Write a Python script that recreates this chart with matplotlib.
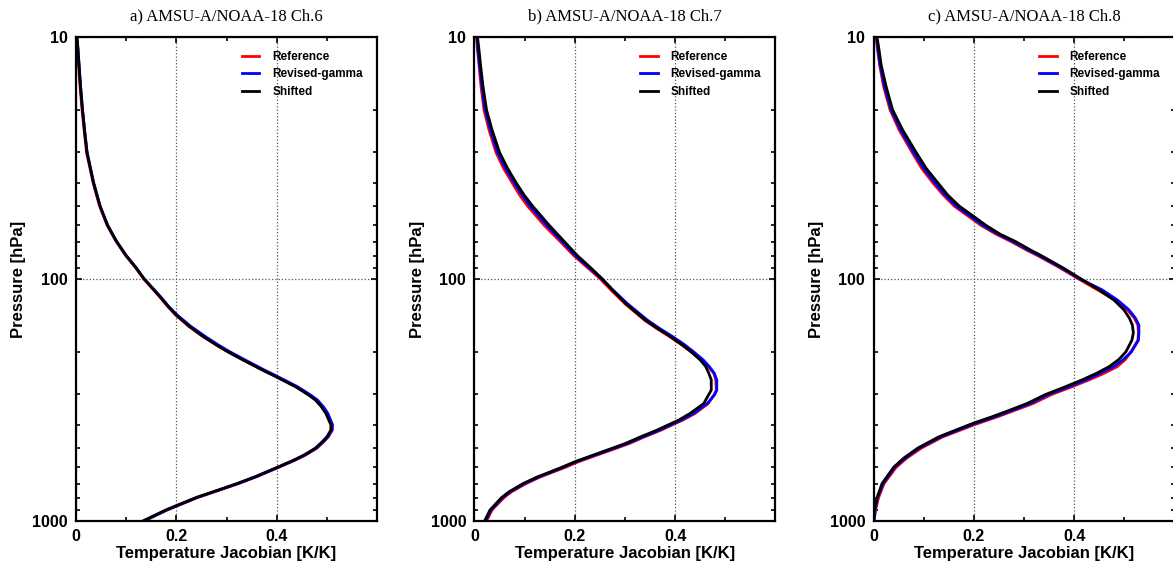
import matplotlib
matplotlib.use("Agg")
import matplotlib.pyplot as plt
from matplotlib.ticker import FixedLocator, FixedFormatter, LogLocator, NullFormatter

# titles of the three panels
titles = ["a) AMSU-A/NOAA-18 Ch.6", "b) AMSU-A/NOAA-18 Ch.7", "c) AMSU-A/NOAA-18 Ch.8"]
series_names = ["Reference", "Revised-gamma", "Shifted"]
series_colors = ["#ff0000", "#0000ff", "#000000"]

# Ch.6 : pressure levels [hPa] and jacobians [K/K]
p_ch6 = [10, 11.3, 13, 16, 20, 24.2, 30, 40, 50, 60, 70, 80, 90, 100, 118, 130, 141,
         157, 173, 188, 200, 216, 238, 253, 279, 300, 316, 337, 359, 400, 421, 449,
         470, 500, 533, 560, 600, 656, 700, 745, 800, 900, 1000]
ch6_ref = [0.001, 0.003, 0.005, 0.008, 0.012, 0.016, 0.021, 0.034, 0.047, 0.062, 0.080,
           0.099, 0.119, 0.135, 0.166, 0.183, 0.199, 0.225, 0.253, 0.281, 0.303, 0.333,
           0.372, 0.399, 0.439, 0.464, 0.480, 0.492, 0.501, 0.511, 0.511, 0.503, 0.494,
           0.480, 0.458, 0.437, 0.404, 0.360, 0.324, 0.286, 0.242, 0.182, 0.136]
ch6_gam = [0.002, 0.004, 0.006, 0.009, 0.013, 0.017, 0.022, 0.035, 0.048, 0.063, 0.081,
           0.100, 0.120, 0.136, 0.168, 0.185, 0.202, 0.229, 0.258, 0.285, 0.307, 0.337,
           0.376, 0.402, 0.442, 0.466, 0.481, 0.493, 0.502, 0.511, 0.510, 0.502, 0.493,
           0.479, 0.457, 0.436, 0.403, 0.359, 0.323, 0.285, 0.241, 0.181, 0.135]
ch6_sft = [0.002, 0.004, 0.006, 0.009, 0.013, 0.017, 0.022, 0.035, 0.048, 0.063, 0.081,
           0.100, 0.120, 0.136, 0.167, 0.184, 0.200, 0.226, 0.254, 0.281, 0.303, 0.333,
           0.372, 0.398, 0.438, 0.462, 0.477, 0.489, 0.498, 0.508, 0.508, 0.500, 0.491,
           0.477, 0.455, 0.434, 0.401, 0.357, 0.321, 0.283, 0.239, 0.179, 0.133]

# Ch.7
p_ch7 = [10, 11.3, 13, 16, 20, 24.2, 30, 34.9, 40, 45, 50, 60, 70, 80, 90, 100, 111,
         126, 148, 160, 173, 187, 200, 216, 230, 245, 261, 288, 300, 327, 359, 383,
         400, 421, 449, 478, 500, 569, 600, 659, 700, 757, 800, 873, 900, 1000]
ch7_ref = [0.004, 0.006, 0.009, 0.013, 0.019, 0.029, 0.043, 0.058, 0.075, 0.090, 0.106,
           0.139, 0.171, 0.198, 0.226, 0.251, 0.272, 0.299, 0.339, 0.363, 0.389, 0.413,
           0.432, 0.453, 0.466, 0.477, 0.481, 0.482, 0.478, 0.466, 0.440, 0.415, 0.395,
           0.372, 0.339, 0.309, 0.283, 0.207, 0.181, 0.130, 0.103, 0.074, 0.059, 0.041,
           0.035, 0.024]
ch7_gam = [0.005, 0.007, 0.010, 0.015, 0.021, 0.032, 0.046, 0.062, 0.079, 0.095, 0.111,
           0.144, 0.175, 0.201, 0.229, 0.254, 0.276, 0.304, 0.345, 0.369, 0.395, 0.419,
           0.437, 0.456, 0.468, 0.478, 0.483, 0.483, 0.479, 0.464, 0.437, 0.412, 0.392,
           0.369, 0.336, 0.305, 0.279, 0.203, 0.177, 0.127, 0.100, 0.071, 0.056, 0.039,
           0.033, 0.022]
ch7_sft = [0.006, 0.009, 0.012, 0.017, 0.024, 0.035, 0.050, 0.066, 0.083, 0.099, 0.116,
           0.149, 0.179, 0.205, 0.232, 0.255, 0.275, 0.301, 0.341, 0.365, 0.391, 0.414,
           0.432, 0.450, 0.461, 0.467, 0.472, 0.472, 0.467, 0.457, 0.430, 0.407, 0.387,
           0.364, 0.331, 0.301, 0.275, 0.200, 0.174, 0.124, 0.097, 0.069, 0.054, 0.037,
           0.031, 0.020]

# Ch.8
p_ch8 = [10, 11.3, 13, 16, 20, 24.2, 30, 34.9, 40, 45, 50, 55.2, 60, 65.2, 70, 75.9,
         80, 90, 100, 111, 122, 134, 145, 155, 167, 179, 200, 215, 230, 245, 261, 280,
         300, 327, 348, 371, 389, 400, 449, 500, 550, 600, 700, 800, 900, 1000]
ch8_ref = [0.005, 0.008, 0.012, 0.020, 0.033, 0.051, 0.077, 0.096, 0.118, 0.139, 0.161,
           0.190, 0.214, 0.244, 0.274, 0.305, 0.327, 0.372, 0.409, 0.447, 0.481, 0.506,
           0.520, 0.527, 0.528, 0.527, 0.513, 0.502, 0.486, 0.460, 0.430, 0.393, 0.355,
           0.318, 0.283, 0.247, 0.218, 0.201, 0.138, 0.095, 0.066, 0.045, 0.021, 0.010,
           0.004, 0.001]
ch8_gam = [0.006, 0.009, 0.013, 0.022, 0.035, 0.054, 0.080, 0.100, 0.122, 0.143, 0.165,
           0.194, 0.218, 0.248, 0.278, 0.309, 0.330, 0.375, 0.412, 0.456, 0.486, 0.509,
           0.522, 0.529, 0.529, 0.528, 0.514, 0.498, 0.479, 0.452, 0.424, 0.387, 0.349,
           0.312, 0.278, 0.242, 0.212, 0.196, 0.134, 0.091, 0.063, 0.042, 0.019, 0.008,
           0.003, 0.001]
ch8_sft = [0.007, 0.011, 0.015, 0.025, 0.038, 0.058, 0.085, 0.105, 0.128, 0.148, 0.171,
           0.200, 0.224, 0.252, 0.283, 0.313, 0.334, 0.378, 0.414, 0.450, 0.479, 0.499,
           0.510, 0.516, 0.518, 0.515, 0.503, 0.489, 0.470, 0.445, 0.416, 0.380, 0.343,
           0.306, 0.272, 0.236, 0.207, 0.191, 0.130, 0.088, 0.060, 0.040, 0.017, 0.007,
           0.002, 0.000]

panels = [
    (p_ch6, [ch6_ref, ch6_gam, ch6_sft]),
    (p_ch7, [ch7_ref, ch7_gam, ch7_sft]),
    (p_ch8, [ch8_ref, ch8_gam, ch8_sft]),
]

sans = "Liberation Sans"
serif = "Liberation Serif"

fig = plt.figure(figsize=(11.73, 5.64), dpi=100)

lefts = [0.0648, 0.4045, 0.7447]
for i, (pres, curves) in enumerate(panels):
    ax = fig.add_axes([lefts[i], 0.0762, 0.2566, 0.8582])

    # draw the three jacobians, black on top
    for vals, name, col in zip(curves, series_names, series_colors):
        ax.plot(vals, pres, color=col, lw=2.0, label=name)

    ax.set_yscale("log")
    ax.set_ylim(1000, 10)
    ax.set_xlim(0, 0.6)

    ax.yaxis.set_major_locator(FixedLocator([10, 100, 1000]))
    ax.yaxis.set_major_formatter(FixedFormatter(["10", "100", "1000"]))
    ax.yaxis.set_minor_locator(LogLocator(base=10, subs=range(2, 10)))
    ax.yaxis.set_minor_formatter(NullFormatter())
    ax.xaxis.set_major_locator(FixedLocator([0, 0.2, 0.4]))
    ax.xaxis.set_major_formatter(FixedFormatter(["0", "0.2", "0.4"]))
    ax.xaxis.set_minor_locator(FixedLocator([0.1, 0.3, 0.5]))

    ax.tick_params(which="both", direction="in", top=True, right=True, width=1.2)
    ax.tick_params(which="major", length=4, pad=6)
    ax.tick_params(which="minor", length=3)
    for lab in ax.get_xticklabels() + ax.get_yticklabels():
        lab.set_fontfamily(sans)
        lab.set_fontweight("bold")
        lab.set_fontsize(11.5)

    ax.grid(which="major", linestyle=":", color="#555555", linewidth=0.9)
    for s in ax.spines.values():
        s.set_linewidth(1.6)

    ax.set_xlabel("Temperature Jacobian [K/K]", fontfamily=sans, fontweight="bold",
                  fontsize=12, labelpad=1)
    ax.set_ylabel("Pressure [hPa]", fontfamily=sans, fontweight="bold",
                  fontsize=12, labelpad=4)
    ax.set_title(titles[i], fontfamily=serif, fontsize=12, pad=12)

    ax.legend(loc="upper right", frameon=False, handlelength=1.5, handletextpad=1.1,
              labelspacing=0.45, borderaxespad=0.8,
              prop={"family": sans, "weight": "bold", "size": 8.5})

fig.savefig("out.png", dpi=100)
